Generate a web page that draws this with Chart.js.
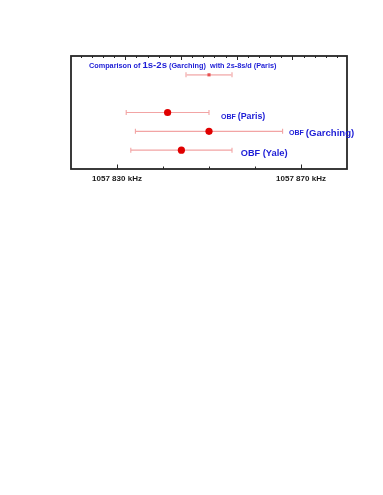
<!DOCTYPE html>
<html>
<head>
<meta charset="utf-8">
<script src="https://cdn.jsdelivr.net/npm/chart.js@4.4.1/dist/chart.umd.min.js"></script>
<style>
html,body{margin:0;padding:0;background:#fff;}
#wrap{width:383px;height:495px;position:relative;}
</style>
</head>
<body>
<div id="wrap"><canvas id="c"></canvas></div>
<script>
// ---- data (kHz) ----
const rowNames   = ['Comparison of 1s-2s (Garching) with 2s-8s/d (Paris)', 'OBF (Paris)', 'OBF (Garching)', 'OBF (Yale)'];
const rowLevels  = [5, 3, 2, 1];
const centers    = [1057850, 1057841, 1057850, 1057844];
const lowerEnds  = [1057845, 1057832, 1057834, 1057833];
const upperEnds  = [1057855, 1057850, 1057866, 1057855];
const xMin = 1057820, xMax = 1057880;
const labelledTicks = [1057830, 1057870];
// text pieces of the row labels (rich text)
const labelPieces = [
  ['Comparison of ', '1s-2s', ' (Garching)  with 2s-8s/d (Paris)'],
  ['OBF ', '(Paris)'],
  ['OBF ', '(Garching)'],
  ['OBF ', '(Yale)']
];
// where the label text starts (kHz) and its level
const labelStartX = [1057823.9, 1057852.6, 1057867.4, 1057856.9];
const labelLevels = [5.48, 2.78, 1.9, 0.84];

const pointData = centers.map((c, i) => ({x: c, y: rowLevels[i]}));

const fmt = v => { const s = String(Math.round(v)); return s.slice(0,4) + ' ' + s.slice(4) + ' kHz'; };

const pieceStyles = [
  [7.3, 9.6, 7.3],
  [7.0, 8.9],
  [7.0, 9.6],
  [9.2, 9.4]
];
const BLUE = '#1d1dd6';

const deco = {
  id: 'deco',
  beforeDatasetsDraw(chart) {
    const ctx = chart.ctx, xs = chart.scales.x, ys = chart.scales.y;
    ctx.save();
    for (let i = 0; i < centers.length; i++) {
      const y = ys.getPixelForValue(rowLevels[i]);
      const x0 = xs.getPixelForValue(lowerEnds[i]);
      const x1 = xs.getPixelForValue(upperEnds[i]);
      ctx.strokeStyle = i === 0 ? '#f5c0c0' : '#f2a4a4';
      ctx.lineWidth = i === 0 ? 1.6 : 1.1;
      ctx.beginPath();
      ctx.moveTo(x0, y); ctx.lineTo(x1, y);
      ctx.moveTo(x0, y - 2.5); ctx.lineTo(x0, y + 2.5);
      ctx.moveTo(x1, y - 2.5); ctx.lineTo(x1, y + 2.5);
      ctx.stroke();
    }
    ctx.restore();
  },
  afterDraw(chart) {
    const ctx = chart.ctx, a = chart.chartArea;
    const xs = chart.scales.x, x2 = chart.scales.x2, ys = chart.scales.y;
    ctx.save();
    // frame
    ctx.strokeStyle = '#262626';
    ctx.lineWidth = 1.8;
    ctx.strokeRect(a.left, a.top, a.right - a.left, a.bottom - a.top);
    // bottom ticks (inside)
    ctx.lineWidth = 1;
    ctx.beginPath();
    for (let v = xMin + 10; v < xMax; v += 10) {
      const px = Math.round(xs.getPixelForValue(v)) + 0.5;
      const len = labelledTicks.includes(v) ? 4.5 : 2.5;
      ctx.moveTo(px, a.bottom); ctx.lineTo(px, a.bottom - len);
    }
    // top ticks (inside)
    for (let k = Math.ceil(x2.min * 5); k <= Math.floor(x2.max * 5); k++) {
      const v = k / 5;
      const px = Math.round(x2.getPixelForValue(v)) + 0.5;
      if (px <= a.left + 1 || px >= a.right - 1) continue;
      const len = (k % 5 === 0) ? 4 : 2;
      ctx.moveTo(px, a.top); ctx.lineTo(px, a.top + len);
    }
    ctx.stroke();
    // labels
    ctx.fillStyle = BLUE;
    ctx.textBaseline = 'middle';
    ctx.textAlign = 'left';
    for (let i = 0; i < labelPieces.length; i++) {
      let x = xs.getPixelForValue(labelStartX[i]);
      const y = ys.getPixelForValue(labelLevels[i]);
      labelPieces[i].forEach((t, j) => {
        ctx.font = 'bold ' + pieceStyles[i][j] + 'px "Liberation Sans", Arial, sans-serif';
        ctx.fillText(t, x, y);
        x += ctx.measureText(t).width;
      });
    }
    ctx.restore();
  }
};

new Chart(document.getElementById('c'), {
  type: 'scatter',
  data: {
    datasets: [{
      data: pointData,
      pointStyle: pointData.map((p, i) => i === 0 ? 'rect' : 'circle'),
      pointRadius: pointData.map((p, i) => i === 0 ? 2.2 : 3.6),
      backgroundColor: pointData.map((p, i) => i === 0 ? '#e85050' : '#e00000'),
      borderColor: pointData.map((p, i) => i === 0 ? '#e85050' : '#e00000'),
      borderWidth: 0
    }]
  },
  options: {
    responsive: true,
    maintainAspectRatio: false,
    animation: false,
    events: [],
    layout: { padding: { left: 71, right: 36, top: 56, bottom: 306 } },
    plugins: { legend: { display: false }, tooltip: { enabled: false } },
    scales: {
      x: {
        type: 'linear', position: 'bottom', min: xMin, max: xMax,
        grid: { display: false, drawTicks: false },
        border: { display: false },
        afterFit: s => { s.height = 20; },
        ticks: {
          stepSize: 10, autoSkip: false, maxRotation: 0, padding: 5,
          color: '#1a1a1a',
          font: { family: '"Liberation Sans", Arial, sans-serif', size: 8, weight: 'bold' },
          callback: v => labelledTicks.includes(v) ? fmt(v) : ''
        }
      },
      x2: {
        type: 'linear', position: 'top', min: -0.975, max: 3.98, display: false
      },
      y: { type: 'linear', min: 0, max: 6, display: false }
    }
  },
  plugins: [deco]
});
</script>
</body>
</html>
